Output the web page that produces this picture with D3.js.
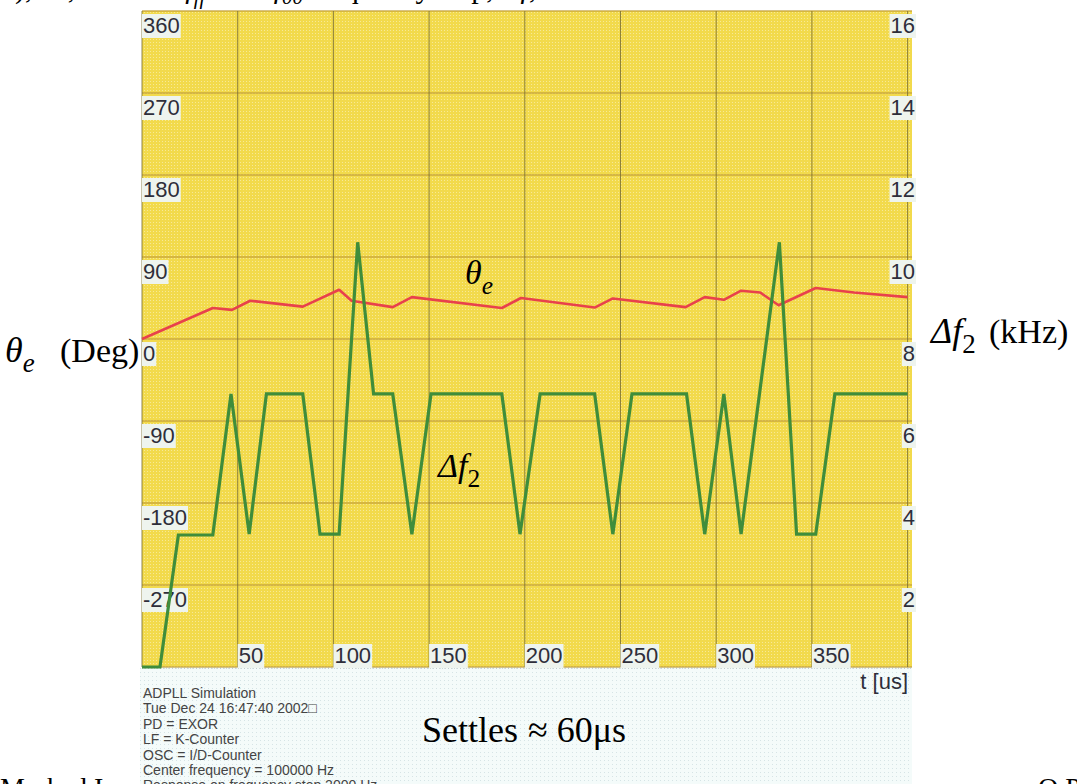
<!DOCTYPE html>
<html>
<head>
<meta charset="utf-8">
<script src="https://cdn.jsdelivr.net/npm/d3@7"></script>
<style>
html,body{margin:0;padding:0;background:#fff;overflow:hidden;}
svg{display:block;}
</style>
</head>
<body>
<svg id="chart" width="1077" height="784"></svg>
<script>
// ---- data ----
const thetaTime = [0, 37, 47, 56.5, 84, 103, 109.5, 131, 141, 188, 198, 236.5, 246, 284, 294, 304, 313, 323, 332.6, 352, 372, 400];
const thetaDeg  = [0, 34, 32, 42, 35.5, 54, 42, 35, 46, 34, 45, 34.5, 44.5, 35, 46, 43, 53, 51, 37, 56, 51, 46];

const dfTime = [0, 9.4, 19, 37, 46.5, 56, 65, 84, 93, 103, 112.7, 121, 131, 141, 151, 188, 197.5, 208, 236.5, 246, 256, 284.5, 294, 304, 313, 333, 342, 352, 362, 400];
const dfKHz  = [0, 0, 3.22, 3.22, 6.66, 3.24, 6.66, 6.66, 3.24, 3.24, 10.36, 6.66, 6.66, 3.24, 6.66, 6.66, 3.24, 6.66, 6.66, 3.24, 6.66, 6.66, 3.24, 6.66, 3.24, 10.36, 3.24, 3.24, 6.66, 6.66];

const thetaTicks = [360, 270, 180, 90, 0, -90, -180, -270];
const thetaGrid  = [360, 270, 180, 90, 0, -90, -180, -270, -360];
const dfTicks    = [16, 14, 12, 10, 8, 6, 4, 2];
const timeTicks  = [50, 100, 150, 200, 250, 300, 350];
const timeGrid   = [0, 50, 100, 150, 200, 250, 300, 350, 400];

const infoLines = [
  "ADPLL Simulation",
  "Tue Dec 24 16:47:40 2002\u25A1",
  "PD = EXOR",
  "LF = K-Counter",
  "OSC = I/D-Counter",
  "Center frequency = 100000 Hz",
  "Response on frequency step 2000 Hz"
];

// ---- layout ----
const svg = d3.select("#chart");
const L = 142, R = 912, T = 11, B = 667;
const x = d3.scaleLinear().domain([0, 400]).range([L, 907.6]);
const yL = d3.scaleLinear().domain([-360, 360]).range([B, T]);
const yR = d3.scaleLinear().domain([0, 16]).range([B, T]);

// dotted pattern backgrounds
const defs = svg.append("defs");
const py = defs.append("pattern").attr("id","yel").attr("width",3).attr("height",3).attr("patternUnits","userSpaceOnUse");
py.append("rect").attr("width",3).attr("height",3).attr("fill","#f2da4c");
py.append("rect").attr("width",1).attr("height",1).attr("fill","#f7e996");
const pc = defs.append("pattern").attr("id","cy").attr("width",4).attr("height",4).attr("patternUnits","userSpaceOnUse");
pc.append("rect").attr("width",4).attr("height",4).attr("fill","#f4fbfa");
pc.append("rect").attr("width",1).attr("height",1).attr("fill","#d6e4e6");

// lower info panel
svg.append("rect").attr("x", L - 2).attr("y", B + 1).attr("width", R - L + 2).attr("height", 784 - B)
  .attr("fill", "url(#cy)");
// plot area
svg.append("rect").attr("x", L).attr("y", T).attr("width", R - L).attr("height", B - T)
  .attr("fill", "url(#yel)");

// grid
svg.append("g").selectAll("line").data(thetaGrid).join("line")
  .attr("x1", L).attr("x2", R).attr("y1", d => yL(d)).attr("y2", d => yL(d))
  .attr("stroke", "#c4a23c").attr("stroke-width", 1.5).attr("opacity", 0.85);
svg.append("g").selectAll("line").data(timeGrid).join("line")
  .attr("x1", d => x(d)).attr("x2", d => x(d)).attr("y1", T).attr("y2", B)
  .attr("stroke", "#7d7234").attr("stroke-width", 1).attr("opacity", 0.85);
svg.append("line").attr("x1", L).attr("x2", R).attr("y1", B + 1).attr("y2", B + 1)
  .attr("stroke", "#a9b3b0").attr("stroke-dasharray", "1,2");

// label helper with light background box
function boxedText(g, txt, xx, yy, anchor) {
  const t = g.append("text").attr("x", xx).attr("y", yy).attr("text-anchor", anchor)
    .attr("font-family", "Liberation Sans, Arial, sans-serif").attr("font-size", 22)
    .attr("fill", "#2e2e3a").text(txt);
  const bb = t.node().getBBox();
  g.insert("rect", "text").attr("x", bb.x - 1).attr("y", bb.y + 1).attr("width", bb.width + 2).attr("height", bb.height - 1)
    .attr("fill", "#eef4ee");
  return t;
}
const lab = svg.append("g");
thetaTicks.forEach(v => { const g = lab.append("g"); boxedText(g, String(v), L + 1, yL(v) + 22, "start"); });
dfTicks.forEach(v => { const g = lab.append("g"); boxedText(g, String(v), 915, yR(v) + 22, "end"); });
timeTicks.forEach(v => { const g = lab.append("g"); boxedText(g, String(v), x(v) + 1, 663, "start"); });

// series
svg.append("path")
  .datum(thetaTime.map((t, i) => [t, thetaDeg[i]]))
  .attr("d", d3.line().x(d => x(d[0])).y(d => yL(d[1])))
  .attr("fill", "none").attr("stroke", "#e8414c").attr("stroke-width", 2.6).attr("stroke-linejoin", "round");
svg.append("path")
  .datum(dfTime.map((t, i) => [t, dfKHz[i]]))
  .attr("d", d3.line().x(d => x(d[0])).y(d => yR(d[1])))
  .attr("fill", "none").attr("stroke", "#3f8d3b").attr("stroke-width", 3.2).attr("stroke-linejoin", "miter");

// axis unit label
svg.append("text").attr("x", 908).attr("y", 689).attr("text-anchor", "end")
  .attr("font-family", "Liberation Sans, Arial, sans-serif").attr("font-size", 22).attr("fill", "#2e2e3a")
  .text("t [us]");

// info block
svg.append("g").selectAll("text").data(infoLines).join("text")
  .attr("x", 143).attr("y", (d, i) => 698 + i * 15.4)
  .attr("font-family", "Liberation Sans, Arial, sans-serif").attr("font-size", 14).attr("fill", "#444")
  .text(d => d);

// serif annotations
const serif = "Liberation Serif, Times New Roman, serif";
function sym(xx, yy, main, sub, size, subItalic) {
  const t = svg.append("text").attr("x", xx).attr("y", yy).attr("font-family", serif).attr("font-size", size).attr("fill", "#000");
  t.append("tspan").attr("font-style", "italic").text(main);
  t.append("tspan").attr("font-size", size * 0.75).attr("dy", size * 0.28).attr("font-style", subItalic ? "italic" : "normal").text(sub);
  return t;
}
sym(5, 362, "\u03B8", "e", 36, true);
svg.append("text").attr("x", 60).attr("y", 362).attr("font-family", serif).attr("font-size", 34).text("(Deg)");
sym(931, 343, "\u0394f", "2", 36, false);
svg.append("text").attr("x", 989).attr("y", 343).attr("font-family", serif).attr("font-size", 34).text("(kHz)");
sym(465, 284, "\u03B8", "e", 34, true);
sym(438, 477, "\u0394f", "2", 34, false);
const st = svg.append("text").attr("x", 422).attr("y", 742).attr("font-family", serif).attr("font-size", 36).attr("fill", "#000");
st.append("tspan").text("Settles");
st.append("tspan").attr("dx", 10).text("\u2248 60\u03BCs");

// cut-off page text around the figure
const headLine = svg.append("text").attr("x", 0).attr("y", -2).attr("font-family", serif).attr("font-size", 30).attr("fill", "#000");
headLine.append("tspan").text("3), \u03B8e, \u0394f2 and ");
headLine.append("tspan").attr("font-style", "italic").text("f");
headLine.append("tspan").attr("font-style", "italic").attr("font-size", 21).attr("dy", 6).text("ff");
headLine.append("tspan").attr("dy", -6).text(" with ");
headLine.append("tspan").attr("font-style", "italic").text("f");
headLine.append("tspan").attr("font-style", "italic").attr("font-size", 21).attr("dy", 6).text("00");
headLine.append("tspan").attr("dy", -6).text(" frequency step, \u0394");
headLine.append("tspan").attr("font-style", "italic").text("f");
headLine.append("tspan").text(", = 2 kHz.");
svg.append("text").attr("x", 0).attr("y", 797).attr("font-family", serif).attr("font-size", 28).attr("fill", "#000")
  .text("Marked I");
svg.append("text").attr("x", 1038).attr("y", 797).attr("font-family", serif).attr("font-size", 28).attr("fill", "#000")
  .text("O.P.L");
</script>
</body>
</html>
